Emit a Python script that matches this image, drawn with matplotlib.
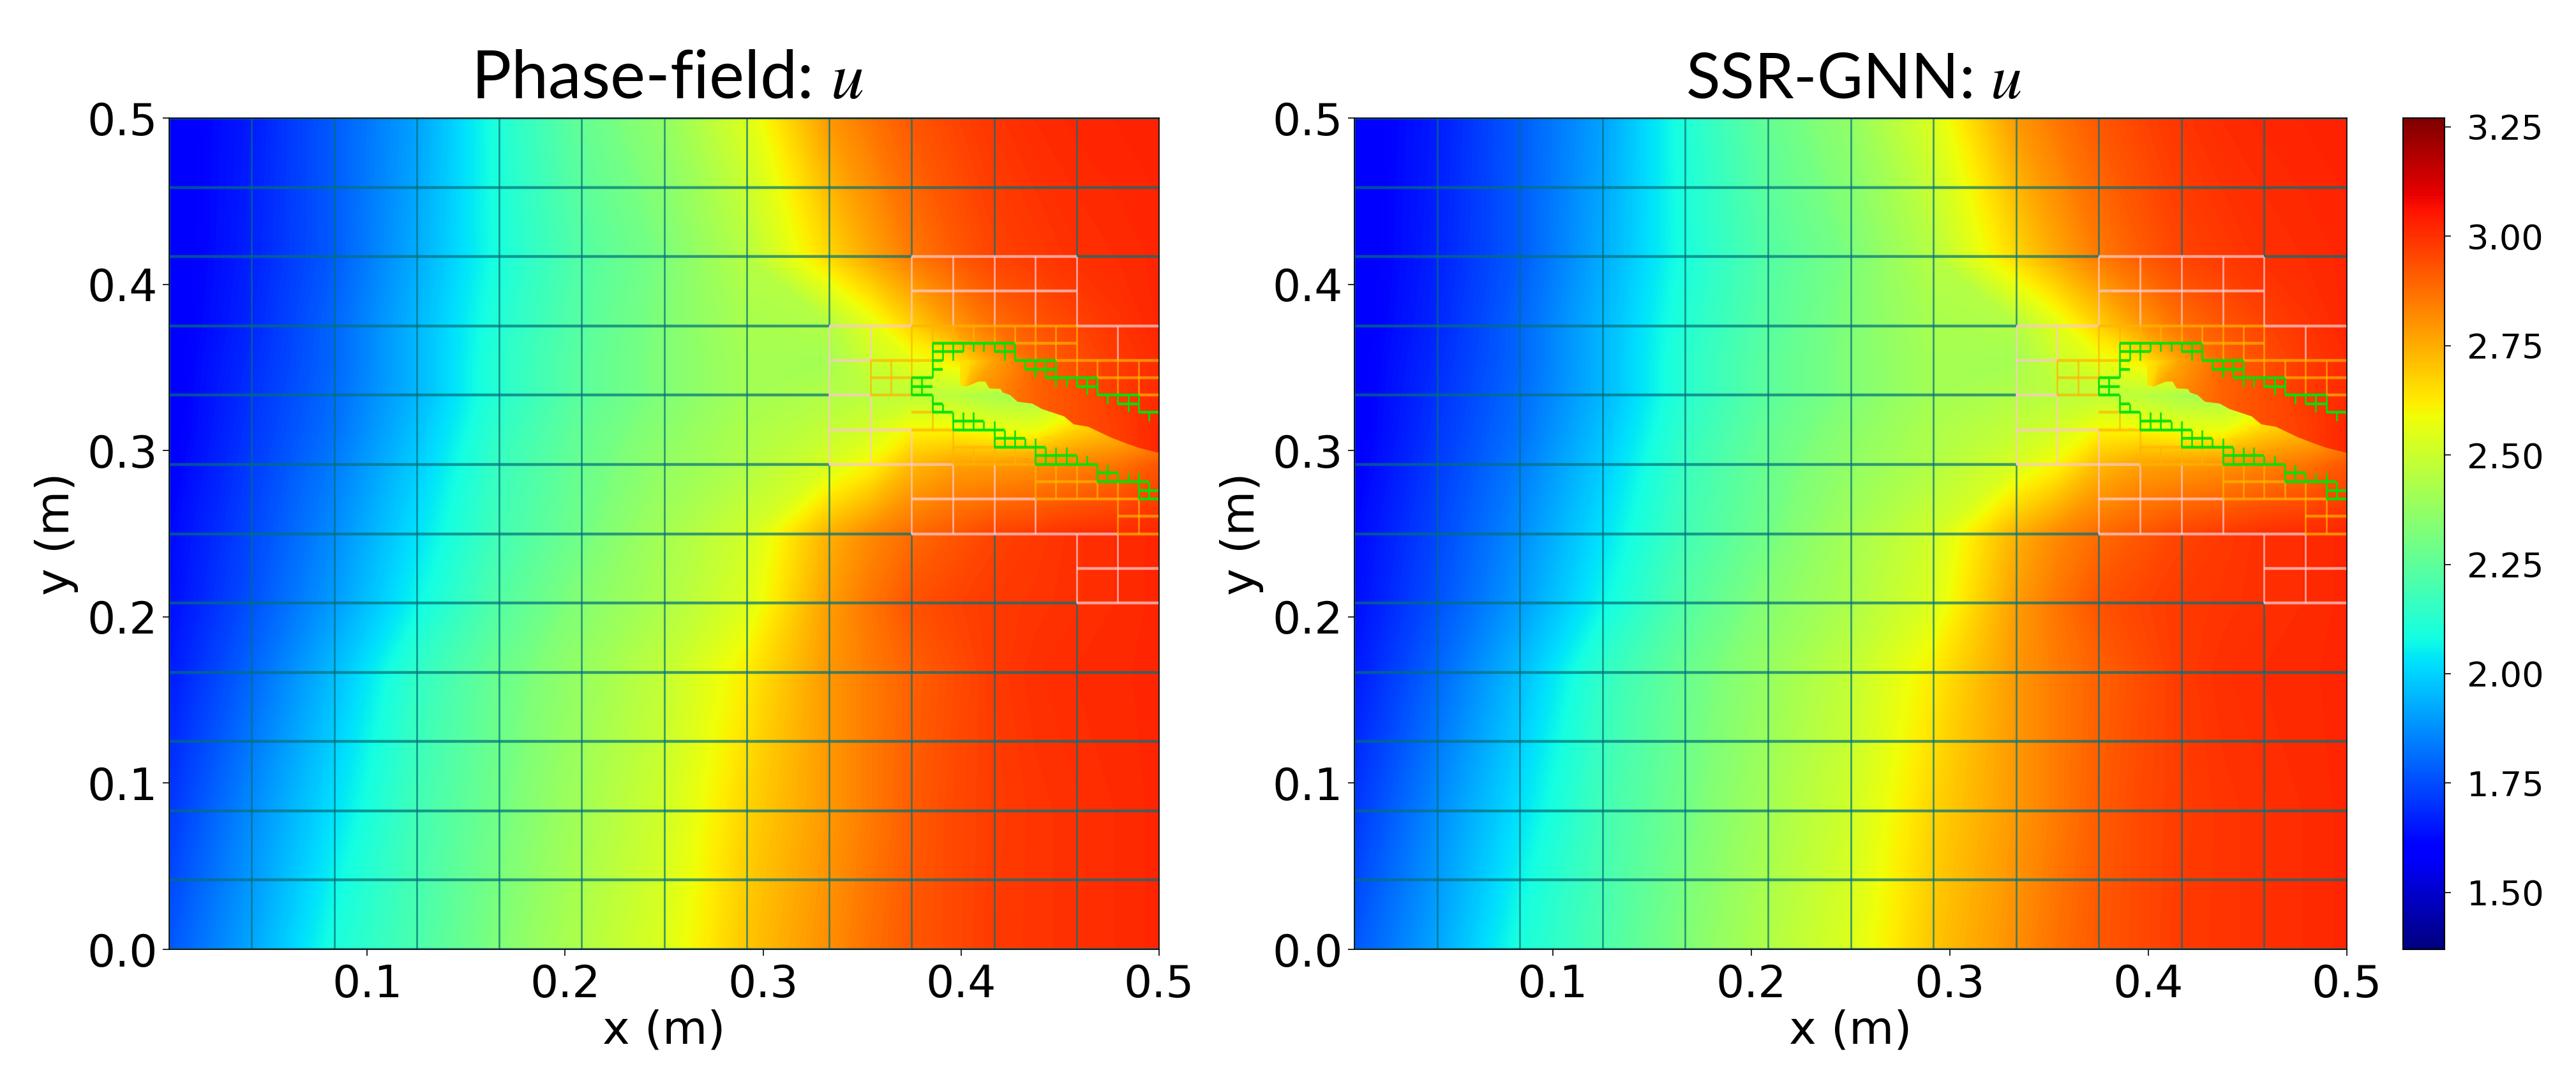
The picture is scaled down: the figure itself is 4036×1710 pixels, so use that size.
import numpy as np
from matplotlib import pyplot as plt
from matplotlib.patches import Polygon
from matplotlib.cm import ScalarMappable
from matplotlib.colors import Normalize

plt.rcParams['font.family'] = 'DejaVu Sans'
plt.rcParams['mathtext.fontset'] = 'stix'

# temperature field, nodes in metres
x_nodes = [0, .0417, .0833, .125, .1667, .2083, .25, .2917, .3333, .3542, .375, .3958, .4167, .4375, .4583, .4792, .5]
y_nodes = [0, .0833, .1667, .2083, .25, .2917, .3125, .3333, .3542, .375, .4167, .5]
u_rows = [
    [1.77, 1.92, 2.10, 2.21, 2.33, 2.44, 2.54, 2.70, 2.81, 2.87, 2.92, 2.95, 2.98, 2.99, 3.00, 3.01, 3.02],
    [1.71, 1.87, 2.03, 2.19, 2.30, 2.41, 2.51, 2.67, 2.79, 2.85, 2.91, 2.95, 2.975, 2.99, 3.00, 3.01, 3.02],
    [1.655, 1.80, 1.96, 2.15, 2.28, 2.38, 2.48, 2.62, 2.79, 2.85, 2.90, 2.94, 2.98, 3.00, 3.01, 3.015, 3.02],
    [1.63, 1.76, 1.90, 2.07, 2.23, 2.34, 2.43, 2.54, 2.78, 2.86, 2.93, 2.96, 2.98, 2.99, 3.00, 3.01, 3.02],
    [1.62, 1.74, 1.87, 2.03, 2.19, 2.30, 2.41, 2.51, 2.74, 2.82, 2.88, 2.92, 2.96, 2.98, 3.00, 3.01, 3.02],
    [1.60, 1.72, 1.84, 1.99, 2.17, 2.28, 2.37, 2.44, 2.53, 2.60, 2.72, 2.77, 2.78, 2.80, 2.83, 2.86, 2.92],
    [1.59, 1.71, 1.82, 1.97, 2.15, 2.27, 2.35, 2.43, 2.48, 2.52, 2.60, 2.60, 2.57, 2.57, 2.67, 2.72, 2.78],
    [1.59, 1.70, 1.81, 1.95, 2.13, 2.25, 2.33, 2.41, 2.44, 2.46, 2.47, 2.46, 2.42, 2.42, 2.50, 2.55, 2.60],
    [1.59, 1.69, 1.80, 1.95, 2.13, 2.25, 2.33, 2.41, 2.41, 2.50, 2.56, 2.62, 2.77, 2.89, 2.94, 2.98, 3.01],
    [1.585, 1.68, 1.80, 1.95, 2.12, 2.24, 2.33, 2.42, 2.44, 2.55, 2.67, 2.78, 2.87, 2.92, 2.96, 2.99, 3.02],
    [1.58, 1.67, 1.78, 1.93, 2.10, 2.23, 2.32, 2.45, 2.66, 2.76, 2.85, 2.91, 2.96, 2.98, 3.00, 3.01, 3.02],
    [1.58, 1.66, 1.78, 1.91, 2.11, 2.27, 2.37, 2.54, 2.79, 2.86, 2.92, 2.96, 2.99, 3.01, 3.02, 3.025, 3.03],
]

# upper side of the crack
crack_x_nodes = [.3958, .405, .4167, .4375, .4583, .4792, .5]
crack_y_nodes = [.295, .3125, .3333, .3542]
crack_u = [
    [2.55, 2.78, 2.82, 2.90, 2.94, 2.97, 3.02],
    [2.55, 2.78, 2.82, 2.90, 2.94, 2.97, 3.02],
    [2.55, 2.78, 2.82, 2.90, 2.94, 2.98, 3.01],
    [2.62, 2.66, 2.77, 2.89, 2.94, 2.98, 3.01],
]
crack_edge_x = [.3995, .4026, .4088, .4122, .4143, .4199, .4211, .4248, .4285, .4359, .4409, .4520, .4569, .4643, .4754, .4841, .4902, .5]
crack_edge_y = [.3393, .3386, .3415, .3415, .3374, .3371, .3349, .3334, .3294, .3283, .3250, .3206, .3158, .3143, .3080, .3040, .3015, .2986]

# base cells split once (column, row in units of 1/24)
refined_cells = [(9, 9), (10, 9), (8, 8), (9, 8), (10, 8), (11, 8), (8, 7), (9, 7), (10, 7), (11, 7),
                 (9, 6), (10, 6), (11, 6), (11, 5)]

# mesh segments, units of 1/192: x0, y0, x1, y1
pink_segments = [
    (72, 80, 88, 80), (72, 76, 88, 76), (64, 72, 72, 72), (88, 72, 96, 72), (64, 68, 68, 68), (64, 64, 68, 64),
    (64, 60, 72, 60), (64, 56, 76, 56), (72, 52, 84, 52), (72, 48, 92, 48), (88, 44, 96, 44), (88, 40, 96, 40),
    (64, 56, 64, 72), (68, 68, 68, 72), (68, 56, 68, 64), (72, 72, 72, 80), (72, 48, 72, 60),
    (76, 48, 76, 56), (76, 72, 76, 80), (80, 48, 80, 56), (80, 72, 80, 80), (84, 48, 84, 52), (84, 72, 84, 80),
    (88, 72, 88, 80), (88, 40, 88, 48), (92, 40, 92, 48), (92, 68, 92, 72),
]
orange_segments = [
    (72, 72, 88, 72), (82, 70, 88, 70), (68, 68, 74, 68), (86, 68, 96, 68), (68, 66, 72, 66), (90, 66, 96, 66),
    (68, 64, 72, 64), (94, 64, 96, 64), (72, 62, 74, 62), (72, 60, 76, 60), (76, 58, 80, 58), (76, 56, 84, 56),
    (84, 54, 90, 54), (84, 52, 94, 52), (92, 50, 96, 50), (92, 48, 96, 48),
    (68, 64, 68, 68), (70, 64, 70, 68), (72, 64, 72, 72), (74, 70, 74, 72), (74, 60, 74, 62),
    (76, 70, 76, 72), (78, 70, 78, 72), (80, 70, 80, 72), (82, 70, 82, 72), (84, 68, 84, 72), (86, 68, 86, 72),
    (88, 66, 88, 72), (90, 66, 90, 68), (92, 64, 92, 68), (94, 64, 94, 68), (76, 56, 76, 60), (78, 56, 78, 58),
    (80, 56, 80, 60), (82, 56, 82, 58), (84, 52, 84, 56), (86, 52, 86, 56), (88, 52, 88, 56), (90, 52, 90, 54),
    (92, 48, 92, 54), (94, 48, 94, 52),
]
green_segments = [
    (74, 70, 82, 70), (74, 69, 77, 69), (80, 69, 82, 69), (74, 68, 75, 68), (82, 68, 86, 68), (74, 67, 75, 67),
    (83, 67, 86, 67), (72, 66, 74, 66), (85, 66, 90, 66), (72, 65, 74, 65), (88, 65, 90, 65), (72, 64, 74, 64),
    (90, 64, 94, 64), (92, 63, 94, 63), (94, 62, 96, 62),
    (74, 66, 74, 70), (75, 68, 75, 70), (76, 68, 76, 70), (77, 69, 77, 70), (78, 69, 78, 70), (79, 69, 79, 70),
    (80, 69, 80, 70), (81, 68, 81, 70), (82, 68, 82, 70), (83, 67, 83, 68), (84, 66, 84, 68), (85, 66, 85, 68),
    (86, 65, 86, 68), (72, 64, 72, 66), (73, 64, 73, 66), (87, 65, 87, 66), (88, 65, 88, 66), (89, 64, 89, 66),
    (90, 64, 90, 66), (91, 63, 91, 64), (92, 63, 92, 64), (93, 62, 93, 64), (94, 62, 94, 64), (95, 61, 95, 62),
    (96, 61, 96, 62),
    (74, 62, 74, 64), (74, 63, 75, 63), (75, 62, 75, 63), (74, 62, 76, 62), (76, 60, 76, 62), (76, 61, 79, 61),
    (76, 60, 81, 60), (77, 60, 77, 62), (78, 60, 78, 62), (79, 60, 79, 61), (80, 58, 80, 61), (81, 58, 81, 60),
    (82, 58, 82, 60), (83, 58, 83, 59), (80, 59, 83, 59), (80, 58, 85, 58), (84, 56, 84, 59), (85, 56, 85, 58),
    (84, 57, 88, 57), (84, 56, 90, 56), (86, 56, 86, 58), (87, 56, 87, 58), (88, 56, 88, 57), (89, 56, 89, 57),
    (90, 54, 90, 56), (91, 54, 91, 56), (92, 54, 92, 55), (90, 55, 92, 55), (90, 54, 95, 54), (93, 54, 93, 55),
    (94, 52, 94, 55), (95, 52, 95, 54), (94, 53, 96, 53), (94, 52, 96, 52), (96, 52, 96, 54),
]

x_ticks = [0.1, 0.2, 0.3, 0.4, 0.5]
y_ticks = [0.0, 0.1, 0.2, 0.3, 0.4, 0.5]
cbar_ticks = [1.50, 1.75, 2.00, 2.25, 2.50, 2.75, 3.00, 3.25]
titles = ['Phase-field: $u$', 'SSR-GNN: $u$']
u_min, u_max = 1.37, 3.27

W, H = 4037, 1710
fig = plt.figure(figsize=(W / 100, H / 100), dpi=100)
norm = Normalize(u_min, u_max)
levels = np.linspace(u_min, u_max, 256)


def box(x0, x1, y0, y1):
    return [x0 / W, 1 - y1 / H, (x1 - x0) / W, (y1 - y0) / H]


def draw_segments(ax, segments, color, alpha):
    for x0, y0, x1, y1 in segments:
        lw = 2.0 if x0 == x1 else 3.2  # horizontal lines are thicker in the picture
        ax.plot([x0 / 192, x1 / 192], [y0 / 192, y1 / 192], color=color, alpha=alpha, lw=lw,
                solid_capstyle='butt')


# teal lines of the cells that were not split
base_segments = []
for col in range(12):
    for row in range(12):
        if (col, row) in refined_cells:
            continue
        x0, y0 = col * 8, row * 8
        if (col - 1, row) not in refined_cells:
            base_segments.append((x0, y0, x0, y0 + 8))
        if (col, row - 1) not in refined_cells:
            base_segments.append((x0, y0, x0 + 8, y0))
        if row == 11:
            base_segments.append((x0, 96, x0 + 8, 96))

for left, right, title, title_size in zip([265, 2122], [1816, 3677], titles, [75, 71]):
    ax = fig.add_axes(box(left, right, 185, 1488))
    # contourf keeps the colours on the jet map between nodes, gouraud went dull
    ax.contourf(x_nodes, y_nodes, np.array(u_rows), levels=levels, cmap='jet', norm=norm)

    crack_top = list(zip(crack_edge_x, crack_edge_y)) + [(.5, .3542), (.3995, .3542)]
    patch = Polygon(crack_top, closed=True, transform=ax.transData, fc='none', ec='none')
    ax.add_patch(patch)
    upper = ax.contourf(crack_x_nodes, crack_y_nodes, np.array(crack_u), levels=levels, cmap='jet', norm=norm)
    upper.set_clip_path(patch)

    draw_segments(ax, base_segments, '#00707a', 0.7)
    draw_segments(ax, pink_segments, '#ffc8c8', 0.75)
    draw_segments(ax, orange_segments, '#ffb400', 0.7)
    draw_segments(ax, green_segments, '#08e008', 0.95)

    ax.set_xlim(0, 0.5)
    ax.set_ylim(0, 0.5)
    ax.set_xticks(x_ticks)
    ax.set_xticklabels(['%.1f' % v for v in x_ticks])
    ax.set_yticks(y_ticks)
    ax.set_yticklabels(['%.1f' % v for v in y_ticks])
    ax.tick_params(labelsize=50, length=7, width=1.2)
    ax.tick_params(axis='x', pad=9)
    ax.tick_params(axis='y', pad=6)
    ax.set_xlabel('x (m)', fontsize=52, labelpad=3)
    ax.set_ylabel('y (m)', fontsize=52, labelpad=10)
    ax.set_title(title, fontsize=title_size, family='Lato', pad=22, x=0.503)
    for spine in ax.spines.values():
        spine.set_linewidth(1.2)

cax = fig.add_axes(box(3765, 3830, 185, 1488))
cbar = fig.colorbar(ScalarMappable(norm=norm, cmap='jet'), cax=cax)
cbar.set_ticks(cbar_ticks)
cbar.set_ticklabels(['%.2f' % v for v in cbar_ticks])
cbar.ax.tick_params(labelsize=39, length=7, width=1.2, pad=18)
cbar.outline.set_linewidth(1.5)

fig.savefig('out.png', dpi=100)
